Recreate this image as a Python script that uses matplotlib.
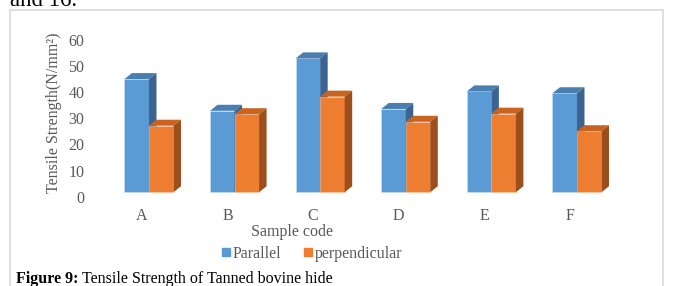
import matplotlib
matplotlib.use('Agg')
import matplotlib.pyplot as plt
from matplotlib.patches import Rectangle
from matplotlib.lines import Line2D

# Data
samples = ['A', 'B', 'C', 'D', 'E', 'F']
parallel = [44.9, 32.8, 52.8, 33.5, 40.2, 39.5]
perpendicular = [27.1, 31.5, 38.2, 28.6, 31.7, 25.0]
series_names = ['Parallel', 'perpendicular']

# face colours: front, top, side
blue = ('#5b9bd5', '#4a7db0', '#3b6590')
orange = ('#ed7d31', '#c8641f', '#9c4f1d')

plt.rcParams['font.family'] = ['Liberation Serif', 'DejaVu Serif']

W, H = 673, 286
fig = plt.figure(figsize=(W / 100, H / 100), dpi=100)

# axes placed in pixel terms
left, right, bottom_px, top_px = 90, 640, 196.7, 34.3
ax = fig.add_axes([left / W, (H - bottom_px) / H, (right - left) / W, (bottom_px - top_px) / H])

ymax = 62
ax.set_ylim(0, ymax)
x0 = -0.689
x1 = 5.736
ax.set_xlim(x0, x1)

px_x = (x1 - x0) / (right - left)     # data units per pixel in x
px_y = ymax / (bottom_px - top_px)    # data units per pixel in y
bar_w = 24.5 * px_x
dx = 7.5 * px_x
dy = 6.0 * px_y
floor = 1.7


def bar3d(x, v, cols):
    """ Draws a front face with its top and side faces """
    front, top, side = cols
    ax.bar(x, v - floor, width=bar_w, bottom=floor, align='edge', color=front,
           edgecolor='#cfe0f0' if front == blue[0] else '#f5c6a5', linewidth=0.4, zorder=2)
    xr = x + bar_w
    ax.fill([x, xr, xr + dx, x + dx], [v, v, v + dy, v + dy], color=top, lw=0, zorder=2)
    ax.fill([xr, xr + dx, xr + dx, xr], [floor, floor + dy, v + dy, v], color=side, lw=0, zorder=2)


for i in range(len(samples)):
    bar3d(i - bar_w, parallel[i], blue)
    bar3d(i, perpendicular[i], orange)

for s in ax.spines.values():
    s.set_visible(False)

grey = '#595959'
ax.set_yticks(range(0, 61, 10))
ax.set_xticks([i - 7 * px_x for i in range(len(samples))])
ax.set_xticklabels(samples)
ax.tick_params(length=0, labelsize=11.5, labelcolor=grey)
ax.tick_params(axis='x', pad=8)
ax.tick_params(axis='y', pad=4)

ax.set_xlabel('Sample code', fontsize=11.5, color=grey)
ax.xaxis.set_label_coords((291.7 - left) / (right - left), (bottom_px - 232) / (bottom_px - top_px))
ax.xaxis.label.set_va('center')
ax.set_ylabel('Tensile Strength(N/mm²)', fontsize=11.5, color=grey)
ax.yaxis.set_label_coords((54 - left) / (right - left), (bottom_px - 113) / (bottom_px - top_px))
ax.yaxis.label.set_va('center')

handles = [Line2D([], [], ls='', marker='s', markersize=5.5, color=c[0]) for c in (blue, orange)]
fig.legend(handles, series_names, loc='center', bbox_to_anchor=(312 / W, (H - 254) / H),
           ncol=2, frameon=False, fontsize=11.5, labelcolor=grey, handlelength=0.6,
           handletextpad=0.1, columnspacing=1.4, borderpad=0)

# chart border (bottom edge runs off the page)
fig.patches.append(Rectangle((10 / W, -0.2), 653 / W, 0.2 + (H - 10) / H, transform=fig.transFigure,
                             fill=False, edgecolor='#d9d9d9', linewidth=1.2))

# surrounding document text
fig.text(10 / W, (H - 6) / H, 'and 16.', fontsize=16.5, va='baseline')
cap = fig.text(16.5 / W, (H - 279) / H, 'Figure 9:', fontsize=11.5, fontweight='bold', va='center')
fig.canvas.draw()
bb = cap.get_window_extent()
fig.text(bb.x1 / W + 3 / W, (H - 279) / H, 'Tensile Strength of Tanned bovine hide', fontsize=11.5, va='center')

fig.savefig('out.png', dpi=100)
